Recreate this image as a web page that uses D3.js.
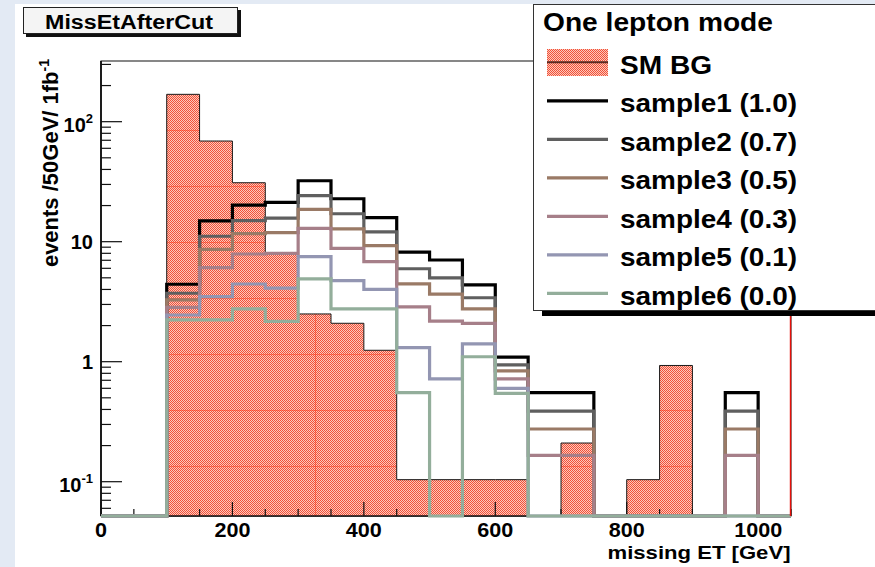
<!DOCTYPE html>
<html>
<head>
<meta charset="utf-8">
<script src="https://cdn.jsdelivr.net/npm/d3@7"></script>
<style>
  html, body { margin: 0; padding: 0; background: #e3eaf4; }
  svg { display: block; }
</style>
</head>
<body>
<script>
// ---- data: missing ET histograms, 50 GeV bins from 0 to 1050 GeV ----
const binEdges = d3.range(0, 1051, 50);
const smBG    = [0, 0, 169, 69, 31, 7.85, 2.5, 2.09, 1.245, 0.104, 0.104, 0.104, 0.104, 0, 0.21, 0, 0.104, 0.93, 0, 0, 0];
const sample1 = [0, 0, 4.42, 14.9, 20.2, 21.3, 32.2, 22.8, 15.85, 8.2, 7.04, 4.36, 1.09, 0.552, 0.552, 0, 0, 0, 0, 0.552, 0];
const sample2 = [0, 0, 3.72, 11.1, 15.0, 15.7, 24.2, 17.1, 12.05, 5.95, 5.0, 3.41, 0.939, 0.387, 0.387, 0, 0, 0, 0, 0.387, 0];
const sample3 = [0, 0, 3.27, 8.64, 11.66, 11.9, 18.6, 12.8, 9.26, 4.45, 3.65, 2.75, 0.837, 0.275, 0.275, 0, 0, 0, 0, 0.275, 0];
const sample4 = [0, 0, 2.84, 6.07, 7.9, 7.99, 12.9, 8.81, 6.81, 2.86, 2.18, 2.09, 0.718, 0.166, 0.166, 0, 0, 0, 0, 0.166, 0];
const sample5 = [0, 0, 2.45, 3.48, 4.44, 4.11, 7.5, 4.73, 4.01, 1.31, 0.718, 1.41, 0.6, 0, 0, 0, 0, 0, 0, 0, 0];
const sample6 = [0, 0, 2.23, 2.23, 2.75, 2.17, 4.89, 2.75, 2.75, 0.552, 0, 1.1, 0.545, 0, 0, 0, 0, 0, 0, 0, 0];

const sampleNames  = ["sample1 (1.0)", "sample2 (0.7)", "sample3 (0.5)", "sample4 (0.3)", "sample5 (0.1)", "sample6 (0.0)"];
const sampleColors = ["#000000", "#5f5f5f", "#9a7a66", "#a67f89", "#9396b2", "#93ae9b"];
const samples = [sample1, sample2, sample3, sample4, sample5, sample6];

const xMajorTicks = [0, 200, 400, 600, 800, 1000];
const yMajorTicks = [0.1, 1, 10, 100];
const yTickLabels = [["10", "-1"], ["1", ""], ["10", ""], ["10", "2"]];

const plotTitle  = "MissEtAfterCut";
const legendHead = "One lepton mode";
const bgName     = "SM BG";
const xTitle     = "missing ET [GeV]";

// ---- canvas ----
const W = 875, H = 567;
const F = { left: 101, right: 791, top: 61, bottom: 516 };
const FONT = "'Liberation Sans', Arial, Helvetica, sans-serif";

const svg = d3.select("body").append("svg").attr("width", W).attr("height", H);
svg.append("rect").attr("width", W).attr("height", H).attr("fill", "#e3eaf4");
svg.append("rect").attr("x", 15).attr("y", 4).attr("width", W - 15).attr("height", H - 4).attr("fill", "#ffffff");

const x = d3.scaleLinear().domain([0, 1050]).range([F.left, F.right]);
const yMin = 0.05178, yMax = 320.4;
const y = d3.scaleLog().domain([yMin, yMax]).range([F.bottom, F.top]);
const yv = v => (v > 0 ? y(Math.max(v, yMin)) : F.bottom);

function stepPoints(vals) {
  const pts = [];
  vals.forEach((v, i) => {
    pts.push([x(binEdges[i]), yv(v)], [x(binEdges[i + 1]), yv(v)]);
  });
  return pts;
}

// ---- fill pattern for the background histogram ----
const defs = svg.append("defs");
const pat = defs.append("pattern").attr("id", "bgHatch")
  .attr("patternUnits", "userSpaceOnUse").attr("width", 2).attr("height", 2);
pat.append("rect").attr("width", 2).attr("height", 2).attr("fill", "#fcc8bb");
pat.append("rect").attr("width", 1).attr("height", 1).attr("fill", "#f25038");
pat.append("rect").attr("x", 1).attr("y", 1).attr("width", 1).attr("height", 1).attr("fill", "#f25038");

const bgPts = stepPoints(smBG);
const area = d3.area().x(d => d[0]).y0(F.bottom).y1(d => d[1]);
const line = d3.line().x(d => d[0]).y(d => d[1]);

defs.append("clipPath").attr("id", "bgClip").append("path").attr("d", area(bgPts));

// frame
svg.append("rect").attr("x", F.left).attr("y", F.top)
  .attr("width", F.right - F.left).attr("height", F.bottom - F.top)
  .attr("fill", "#ffffff").attr("stroke", "#111").attr("stroke-width", 1);

// background histogram
svg.append("path").attr("d", area(bgPts)).attr("fill", "url(#bgHatch)");
const seams = svg.append("g").attr("clip-path", "url(#bgClip)")
  .attr("stroke", "#ff3a1a").attr("stroke-opacity", 0.5).attr("stroke-width", 1);
d3.range(130.5, F.bottom, 56).forEach(yy => {
  seams.append("line").attr("x1", F.left).attr("x2", F.right).attr("y1", yy).attr("y2", yy);
});
seams.append("line").attr("x1", 315.5).attr("x2", 315.5).attr("y1", F.top).attr("y2", F.bottom);
svg.append("path").attr("d", line(bgPts)).attr("fill", "none")
  .attr("stroke", "#1a1a1a").attr("stroke-width", 1);

// ---- axes ----
const ax = svg.append("g").attr("stroke", "#111").attr("stroke-width", 1.2);
ax.append("line").attr("x1", F.left).attr("x2", F.right).attr("y1", F.bottom).attr("y2", F.bottom).attr("stroke-width", 1.6);
ax.append("line").attr("x1", F.left).attr("x2", F.left).attr("y1", F.top).attr("y2", F.bottom).attr("stroke-width", 1.8);

// x ticks
d3.range(0, 1051, 50).forEach(v => {
  const major = xMajorTicks.includes(v);
  ax.append("line").attr("x1", x(v)).attr("x2", x(v))
    .attr("y1", F.bottom).attr("y2", F.bottom - (major ? 14 : 7));
});
// y ticks
const yMinor = [];
[0.01, 0.1, 1, 10, 100].forEach(dec => {
  d3.range(2, 10).forEach(k => { const v = k * dec; if (v > yMin && v < yMax) yMinor.push(v); });
});
yMinor.forEach(v => {
  ax.append("line").attr("x1", F.left).attr("x2", F.left + 10).attr("y1", y(v)).attr("y2", y(v));
});
yMajorTicks.forEach(v => {
  ax.append("line").attr("x1", F.left).attr("x2", F.left + 21).attr("y1", y(v)).attr("y2", y(v));
});

// ---- signal samples (drawn so sample6 ends on top) ----
samples.forEach((vals, i) => {
  svg.append("path").attr("d", line(stepPoints(vals))).attr("fill", "none")
    .attr("stroke", sampleColors[i]).attr("stroke-width", 3.2)
    .attr("stroke-linejoin", "miter");
});

// right frame edge
svg.append("line").attr("x1", F.right - 0.5).attr("x2", F.right - 0.5)
  .attr("y1", F.top).attr("y2", F.bottom).attr("stroke", "#e8100a").attr("stroke-width", 1.4);

// ---- axis labels ----
const txt = svg.append("g").attr("font-family", FONT).attr("font-weight", "bold").attr("fill", "#000");
xMajorTicks.forEach(v => {
  const s = String(v);
  txt.append("text").attr("x", x(v)).attr("y", 537).attr("text-anchor", "middle")
    .attr("font-size", 20).attr("textLength", 12 * s.length).attr("lengthAdjust", "spacingAndGlyphs").text(s);
});
yMajorTicks.forEach((v, i) => {
  const [base, sup] = yTickLabels[i];
  const yy = y(v);
  if (sup) {
    txt.append("text").attr("x", 93).attr("y", yy + 10.5).attr("text-anchor", "end")
      .attr("font-size", 20)
      .call(t => {
        t.append("tspan").text(base);
        t.append("tspan").attr("font-size", 13).attr("dy", -9).text(sup);
      });
  } else {
    txt.append("text").attr("x", 93).attr("y", yy + 7.5).attr("text-anchor", "end")
      .attr("font-size", 20).text(base);
  }
});
txt.append("text").attr("x", 790.5).attr("y", 559).attr("text-anchor", "end")
  .attr("font-size", 19).attr("textLength", 183).attr("lengthAdjust", "spacingAndGlyphs").text(xTitle);
txt.append("text").attr("transform", "translate(58,59) rotate(-90)").attr("text-anchor", "end")
  .attr("font-size", 22)
  .call(t => {
    t.append("tspan").text("events /50GeV/ 1fb");
    t.append("tspan").attr("font-size", 14).attr("dy", -9).text("-1");
  });

// ---- title box ----
svg.append("rect").attr("x", 26).attr("y", 10).attr("width", 215).attr("height", 27).attr("fill", "#111");
svg.append("rect").attr("x", 23.5).attr("y", 7.5).attr("width", 214).attr("height", 26)
  .attr("fill", "#f4f4f4").attr("stroke", "#222").attr("stroke-width", 1);
svg.append("text").attr("x", 45).attr("y", 29)
  .attr("font-family", FONT).attr("font-weight", "bold").attr("font-size", 19.5).attr("fill", "#000")
  .attr("textLength", 168).attr("lengthAdjust", "spacingAndGlyphs").text(plotTitle);

// ---- legend ----
svg.append("rect").attr("x", 542).attr("y", 12).attr("width", 400).attr("height", 304).attr("fill", "#000");
svg.append("rect").attr("x", 533.5).attr("y", 4.5).attr("width", 400).attr("height", 306)
  .attr("fill", "#fff").attr("stroke", "#333").attr("stroke-width", 1);
const lg = svg.append("g").attr("font-family", FONT).attr("font-weight", "bold").attr("fill", "#000");
lg.append("text").attr("x", 543).attr("y", 31).attr("font-size", 25)
  .attr("textLength", 230).attr("lengthAdjust", "spacingAndGlyphs").text(legendHead);

const rowY = i => 62.3 + 38.5 * i;
svg.append("rect").attr("x", 547).attr("y", 49).attr("width", 61).attr("height", 27).attr("fill", "url(#bgHatch)");
svg.append("line").attr("x1", 547).attr("x2", 608).attr("y1", rowY(0)).attr("y2", rowY(0))
  .attr("stroke", "#5a2a22").attr("stroke-width", 2);
lg.append("text").attr("x", 620).attr("y", rowY(0) + 12).attr("font-size", 25)
  .attr("textLength", 92).attr("lengthAdjust", "spacingAndGlyphs").text(bgName);

sampleNames.forEach((name, i) => {
  const yy = rowY(i + 1);
  svg.append("line").attr("x1", 547).attr("x2", 608).attr("y1", yy).attr("y2", yy)
    .attr("stroke", sampleColors[i]).attr("stroke-width", 3.2);
  lg.append("text").attr("x", 620).attr("y", yy + 11.5).attr("font-size", 25)
    .attr("textLength", 177).attr("lengthAdjust", "spacingAndGlyphs").text(name);
});
</script>
</body>
</html>
